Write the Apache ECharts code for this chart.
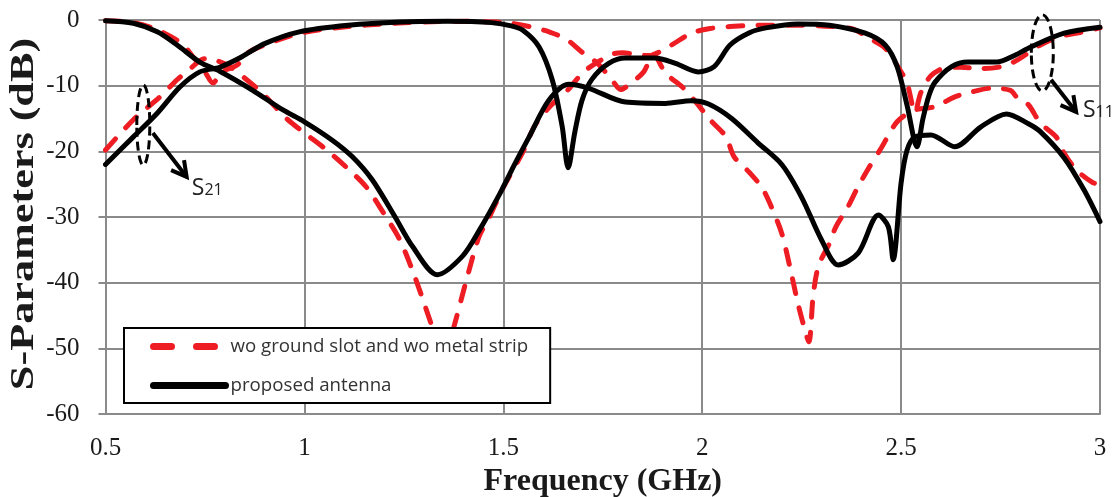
<!DOCTYPE html>
<html>
<head>
<meta charset="utf-8">
<script src="https://cdn.jsdelivr.net/npm/echarts@6/dist/echarts.min.js"></script>
<style>
  html, body { margin: 0; padding: 0; background: #fff; }
  #chart { width: 1115px; height: 497px; }
</style>
</head>
<body>
<div id="chart"></div>
<script>
// ---- Data ----
const xTicks = [0.5, 1, 1.5, 2, 2.5, 3];
const yTicks = [0, -10, -20, -30, -40, -50, -60];

const legendNames = ['wo ground slot and wo metal strip', 'proposed antenna'];
const xTitle = 'Frequency (GHz)';
const yTitle = 'S-Parameters (dB)';

// Proposed antenna, S21-like branch (black)
const propAFreq = [0.5, 0.57, 0.63, 0.687, 0.737, 0.787, 0.837, 0.9, 0.987, 1.11, 1.24, 1.36, 1.47, 1.52, 1.55, 1.59, 1.623, 1.648, 1.663, 1.68, 1.698, 1.723, 1.765, 1.807, 1.88, 1.933, 1.99, 2.03, 2.07, 2.12, 2.16, 2.24, 2.32, 2.41, 2.46, 2.49, 2.515, 2.54, 2.555, 2.57, 2.585, 2.627, 2.668, 2.74, 2.785, 2.826, 2.91, 3.0];
const propAVal  = [-22, -17.8, -14.2, -10.2, -7.9, -7.2, -5.8, -3.6, -1.8, -0.8, -0.3, -0.2, -0.4, -0.9, -1.6, -4.1, -9.1, -16.2, -22.5, -17, -12.2, -9, -6.6, -5.8, -5.8, -6.6, -7.9, -7.1, -3.8, -1.9, -1.2, -0.6, -0.8, -2.0, -3.8, -7.1, -13, -19.3, -15, -11.5, -9.5, -7.1, -6.4, -6.4, -5.4, -4.1, -2.0, -1.1];

// Proposed antenna, S11-like branch (black)
const propBFreq = [0.5, 0.57, 0.63, 0.68, 0.737, 0.787, 0.87, 0.946, 1.0, 1.07, 1.12, 1.17, 1.228, 1.272, 1.334, 1.397, 1.44, 1.49, 1.53, 1.565, 1.615, 1.665, 1.715, 1.807, 1.907, 1.973, 2.016, 2.074, 2.14, 2.2, 2.25, 2.3, 2.342, 2.392, 2.443, 2.468, 2.48, 2.5, 2.515, 2.535, 2.575, 2.635, 2.7, 2.765, 2.82, 2.85, 2.91, 2.96, 3.0];
const propBVal  = [-0.1, -0.5, -1.8, -3.8, -6.4, -7.8, -10.7, -13.7, -15.5, -18.3, -20.8, -24.3, -30, -34.5, -38.8, -36, -32, -26.6, -21.8, -17.8, -12.2, -9.8, -10.4, -12.5, -12.7, -12.3, -12.8, -15.0, -18.7, -22.0, -27, -33.5, -37.3, -35.5, -29.7, -31.5, -36.5, -24.8, -19.8, -17.8, -17.5, -19.3, -16.3, -14.3, -15.8, -17, -21, -25.9, -30.7];

// Without ground slot / metal strip, branch A (red dashed)
const woAFreq = [0.5, 0.57, 0.637, 0.68, 0.717, 0.75, 0.78, 0.812, 0.855, 0.9, 0.955, 1.0, 1.05, 1.105, 1.155, 1.2, 1.24, 1.277, 1.321, 1.351, 1.376, 1.41, 1.439, 1.465, 1.5, 1.55, 1.58, 1.62, 1.66, 1.70, 1.735, 1.773, 1.8, 1.832, 1.86, 1.877, 1.923, 1.973, 2.02, 2.07, 2.15, 2.25, 2.33, 2.38, 2.42, 2.46, 2.497, 2.515, 2.535, 2.55, 2.575, 2.61, 2.65, 2.7, 2.76, 2.8, 2.85, 2.9, 2.95, 3.0];
const woAVal  = [-19.8, -15.2, -11.7, -9.1, -7.2, -5.9, -6.2, -7.1, -9.1, -11.5, -15, -17.2, -19.5, -22.4, -25.4, -29.5, -33.5, -39, -46.7, -52, -46.7, -39, -33, -30, -25.5, -20, -16, -13, -10.8, -8, -6.5, -5.2, -5.0, -5.2, -5.4, -5.3, -3.8, -2.0, -1.3, -1.0, -0.8, -0.8, -1.0, -1.4, -2.8, -4.3, -7.6, -9.6, -14, -11, -8.5, -7.3, -7.2, -7.4, -7.0, -5.8, -3.8, -2.5, -1.9, -1.2];

// Without ground slot / metal strip, branch B (red dashed)
const woBFreq = [0.5, 0.57, 0.63, 0.69, 0.72, 0.75, 0.77, 0.792, 0.83, 0.86, 0.9, 0.99, 1.11, 1.2, 1.3, 1.41, 1.47, 1.51, 1.565, 1.615, 1.66, 1.70, 1.735, 1.773, 1.795, 1.815, 1.853, 1.877, 1.908, 1.95, 1.98, 2.02, 2.06, 2.08, 2.12, 2.15, 2.17, 2.2, 2.22, 2.24, 2.255, 2.268, 2.279, 2.292, 2.32, 2.336, 2.366, 2.39, 2.416, 2.45, 2.49, 2.535, 2.585, 2.635, 2.675, 2.725, 2.775, 2.79, 2.82, 2.85, 2.89, 2.91, 2.94, 2.98, 3.0];
const woBVal  = [-0.1, -0.4, -1.5, -3.5, -5.6, -7.9, -9.6, -7.9, -6.9, -4.9, -3.8, -2.0, -1.0, -0.6, -0.3, -0.2, -0.3, -0.4, -1.0, -1.8, -3.0, -5.0, -6.5, -9.1, -10.6, -9.9, -7.9, -5.2, -8.1, -10.2, -12.2, -15.2, -17.8, -20.8, -23.3, -25.5, -27.9, -32.5, -37.5, -43, -46.5, -49, -42, -37.5, -34, -31.5, -28.5, -25.6, -22.8, -19.5, -15.5, -13.7, -13.2, -11.7, -11, -10.4, -10.7, -11.7, -12.9, -15.7, -17.8, -20.3, -22.8, -24.7, -25.1];

// Annotation anchors (data coordinates)
const s21Label = { ellipse: [0.595, -16.0], from: [0.619, -17.2], to: [0.704, -23.9], text: [0.717, -25.6] };
const s11Label = { ellipse: [2.855, -5.0], from: [2.877, -9.1], to: [2.94, -14.0], text: [2.957, -13.7] };

// ---- Chart ----
function zip(f, v) { return f.map((x, i) => [x, v[i]]); }

const RED = '#ee1d24';
const GRID = '#8a8a8a';
const SERIF = 'Liberation Serif, Times New Roman, serif';
const SANS = 'Open Sans, sans-serif';

const chart = echarts.init(document.getElementById('chart'), null, { renderer: 'canvas' });

const redLine = { color: RED, width: 5, type: [15, 15], cap: 'round' };
const blackLine = { color: '#000', width: 5, cap: 'round' };

chart.setOption({
  animation: false,
  backgroundColor: '#fff',
  grid: { left: 105.5, right: 15, top: 20, bottom: 83, containLabel: false, outerBoundsMode: 'none' },
  xAxis: {
    type: 'value', min: xTicks[0], max: xTicks[xTicks.length - 1], interval: 0.5,
    axisLine: { show: true, onZero: false, lineStyle: { color: GRID, width: 2 } },
    axisTick: { show: false },
    splitLine: { show: true, lineStyle: { color: GRID, width: 2 } },
    axisLabel: { fontFamily: SERIF, fontSize: 25, color: '#1a1a1a', margin: 22,
      formatter: v => String(v) },
    name: xTitle, nameLocation: 'middle', nameGap: 47,
    nameTextStyle: { fontFamily: SERIF, fontSize: 32, fontWeight: 'bold', color: '#1a1a1a' }
  },
  yAxis: {
    type: 'value', min: yTicks[yTicks.length - 1], max: yTicks[0], interval: 10,
    axisLine: { show: true, lineStyle: { color: GRID, width: 2 } },
    axisTick: { show: true, length: 7, lineStyle: { color: GRID, width: 2 } },
    splitLine: { show: true, lineStyle: { color: GRID, width: 2 } },
    axisLabel: { fontFamily: SERIF, fontSize: 25, color: '#1a1a1a', margin: 26 }
  },
  legend: {
    orient: 'vertical', left: 124, top: 328,
    itemWidth: 72, itemHeight: 20, itemGap: 20,
    padding: [9, 22, 8, 26],
    backgroundColor: '#fff', borderColor: '#000', borderWidth: 2, borderRadius: 0,
    textStyle: { fontFamily: SANS, fontSize: 18.7, color: '#333' },
    data: [
      { name: legendNames[0], itemStyle: { opacity: 0 }, lineStyle: { color: RED, width: 7, type: [18, 25], cap: 'round' } },
      { name: legendNames[1], itemStyle: { opacity: 0 }, lineStyle: { color: '#000', width: 7, cap: 'round' } }
    ],
    z: 20
  },
  series: [
    { name: legendNames[0], type: 'line', data: zip(woAFreq, woAVal), smooth: 0.3, symbol: 'none', itemStyle: { color: RED }, lineStyle: redLine, z: 2 },
    { name: legendNames[0], type: 'line', data: zip(woBFreq, woBVal), smooth: 0.3, symbol: 'none', itemStyle: { color: RED }, lineStyle: redLine, z: 2 },
    { name: legendNames[1], type: 'line', data: zip(propAFreq, propAVal), smooth: 0.3, symbol: 'none', itemStyle: { color: '#000' }, lineStyle: blackLine, z: 3 },
    { name: legendNames[1], type: 'line', data: zip(propBFreq, propBVal), smooth: 0.3, symbol: 'none', itemStyle: { color: '#000' }, lineStyle: blackLine, z: 3 }
  ]
});

// ---- Annotations (placed from data coordinates) ----
function px(p) { return chart.convertToPixel({ gridIndex: 0 }, p); }
function arrow(a, b) {
  const A = px(a), B = px(b);
  const ang = Math.atan2(B[1] - A[1], B[0] - A[0]);
  const L = 17, spread = 0.5;
  const h1 = [B[0] - L * Math.cos(ang - spread), B[1] - L * Math.sin(ang - spread)];
  const h2 = [B[0] - L * Math.cos(ang + spread), B[1] - L * Math.sin(ang + spread)];
  return [
    { type: 'line', shape: { x1: A[0], y1: A[1], x2: B[0], y2: B[1] }, style: { stroke: '#000', lineWidth: 4 }, z: 30 },
    { type: 'polyline', shape: { points: [h1, B, h2] }, style: { stroke: '#000', lineWidth: 4, fill: null, lineJoin: 'miter' }, z: 30 }
  ];
}
function ellipse(c, rx, ry) {
  const C = px(c);
  return { type: 'ellipse', shape: { cx: C[0], cy: C[1], rx: rx, ry: ry },
    style: { fill: null, stroke: '#000', lineWidth: 3, lineDash: [9, 5] }, z: 30 };
}
function label(p, sub) {
  const P = px(p);
  return { type: 'text', x: P[0], y: P[1], z: 30,
    style: { text: '{s|S}{n|' + sub + '}', verticalAlign: 'middle', align: 'left',
      rich: { s: { fontFamily: SANS, fontSize: 23, fill: '#222', verticalAlign: 'bottom' },
              n: { fontFamily: SANS, fontSize: 16, fill: '#222', verticalAlign: 'bottom', padding: [0, 0, 1, 0] } } } };
}

// y-axis title: stretched along its length like the reference
const yTitleEl = { type: 'text', x: 24, y: 214, rotation: Math.PI / 2, scaleX: 1.3, scaleY: 1, z: 30,
  style: { text: yTitle, fontFamily: SERIF, fontSize: 34, fontWeight: 'bold', fill: '#1a1a1a', align: 'center', verticalAlign: 'middle' } };

chart.setOption({
  graphic: [].concat(
    [yTitleEl],
    [ellipse(s21Label.ellipse, 6.5, 40)], arrow(s21Label.from, s21Label.to), [label(s21Label.text, '21')],
    [ellipse(s11Label.ellipse, 11, 38)], arrow(s11Label.from, s11Label.to), [label(s11Label.text, '11')]
  )
});
</script>
</body>
</html>
